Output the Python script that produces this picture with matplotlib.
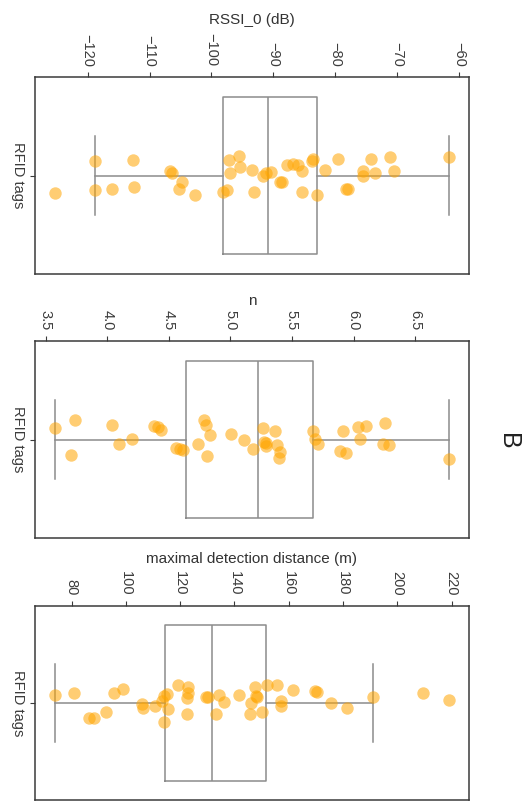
import numpy as np
import matplotlib
matplotlib.use("Agg")
import matplotlib.pyplot as plt

plt.rcParams['font.family'] = ['Liberation Sans', 'DejaVu Sans']

# RSSI_0 (dB) per tag, with jitter offsets
rssi = [-125.3, -118.8, -118.8, -116.1, -112.6, -112.5, -106.7, -106.3, -104.8, -105.2,
        -102.7, -98.2, -97.5, -97.1, -97.0, -95.5, -95.4, -93.5, -93.2, -91.6,
        -91.2, -90.4, -88.9, -88.6, -87.8, -86.8, -86.0, -85.3, -85.3, -83.8,
        -83.6, -82.9, -81.7, -79.5, -78.2, -78.0, -75.6, -75.5, -74.3, -73.6,
        -71.2, -70.5, -61.6]
rssi_jit = [-0.088, 0.076, -0.076, -0.068, 0.08, -0.059, 0.022, 0.012, -0.034, -0.068,
            -0.098, -0.085, -0.076, 0.08, 0.012, 0.10, 0.042, 0.028, -0.085, 0.0,
            0.012, 0.02, -0.034, -0.034, 0.054, 0.06, 0.054, 0.022, -0.085, 0.076,
            0.085, -0.098, 0.03, 0.085, -0.068, -0.07, 0.025, 0.0, 0.085, 0.012,
            0.094, 0.025, 0.094]
rssi_box = dict(whislo=-118.8, q1=-98.2, med=-90.8, q3=-83.0, whishi=-61.6)

# path loss exponent n
n_vals = [3.575, 3.738, 3.705, 4.041, 4.095, 4.198, 4.382, 4.414, 4.433, 4.555,
          4.590, 4.612, 4.739, 4.788, 4.801, 4.834, 4.807, 5.001, 5.112, 5.180,
          5.261, 5.274, 5.288, 5.29, 5.364, 5.375, 5.402, 5.396, 5.667, 5.686,
          5.713, 5.911, 5.889, 5.943, 6.037, 6.051, 6.1, 6.254, 6.236, 6.289, 6.776]
n_jit = [0.056, 0.098, -0.08, 0.076, -0.025, 0.005, 0.068, 0.064, 0.047, -0.042,
         -0.047, -0.054, -0.025, 0.10, 0.073, 0.025, -0.085, 0.03, -0.005, -0.046,
         0.059, -0.014, -0.034, -0.02, 0.042, -0.03, -0.064, -0.093, 0.042, 0.003,
         -0.025, 0.042, -0.056, -0.068, 0.063, 0.005, 0.068, 0.085, -0.022, -0.03, -0.098]
n_box = dict(whislo=3.575, q1=4.636, med=5.221, q3=5.672, whishi=6.773)

# maximal detection distance (m)
dist = [73.85, 80.8, 86.5, 88.2, 92.6, 95.7, 99.0, 105.8, 106.4, 110.7,
        113.2, 114.0, 115.6, 114.0, 115.2, 119.1, 123.0, 122.7, 122.4, 122.6,
        129.5, 130.3, 133.2, 134.3, 136.1, 141.7, 145.9, 145.7, 147.5, 147.9,
        148.2, 150.0, 151.8, 155.5, 157.0, 157.0, 161.4, 169.6, 170.5, 175.5,
        181.3, 191.1, 209.5, 219.1]
dist_jit = [0.041, 0.049, -0.076, -0.076, -0.047, 0.051, 0.071, -0.005, -0.025, -0.014,
            0.012, 0.037, -0.03, -0.098, 0.046, 0.093, 0.08, 0.054, 0.024, -0.056,
            0.032, 0.029, -0.056, 0.042, 0.003, 0.042, 0.0, -0.059, 0.08, 0.037,
            0.029, -0.047, 0.093, 0.093, 0.012, -0.014, 0.068, 0.063, 0.058, 0.0,
            -0.027, 0.032, 0.049, 0.017]
dist_box = dict(whislo=73.85, q1=114.4, med=131.8, q3=151.5, whishi=191.1)

# (values, jitter, box stats, ticks, xlim, label, label y in px)
panels = [
    (rssi, rssi_jit, rssi_box, [-120, -110, -100, -90, -80, -70, -60],
     (-128.5, -58.4), "RSSI_0 (dB)", 20),
    (n_vals, n_jit, n_box, [3.5, 4.0, 4.5, 5.0, 5.5, 6.0, 6.5],
     (3.413, 6.938), "n", 301),
    (dist, dist_jit, dist_box, [80, 100, 120, 140, 160, 180, 200, 220],
     (66.5, 226.4), "maximal detection distance (m)", 559),
]
tick_fmt = [lambda v: f"{v:.0f}", lambda v: f"{v:.1f}", lambda v: f"{v:.0f}"]

W, H = 526, 801
fig = plt.figure(figsize=(W / 100, H / 100), dpi=100)

axes_px = [(77, 274), (341, 538), (606, 800)]  # top, bottom in pixels
box_col = "#8c8c8c"
spine_col = "#3a3a3a"

for i, (vals, jit, st, ticks, xlim, label, ly) in enumerate(panels):
    top, bot = axes_px[i]
    ax = fig.add_axes([35 / W, 1 - bot / H, 434 / W, (bot - top) / H])

    stats = [dict(st, label="", fliers=[])]
    ax.bxp(stats, positions=[0], widths=0.8, vert=False, showfliers=False,
           boxprops=dict(color=box_col, lw=1.1),
           whiskerprops=dict(color=box_col, lw=1.1),
           capprops=dict(color=box_col, lw=1.1),
           medianprops=dict(color=box_col, lw=1.1))

    ax.scatter(vals, jit, s=80, color="#FFA500", alpha=0.55, lw=0, zorder=3)

    ax.set_xlim(*xlim)
    ax.set_ylim(-0.5, 0.5)
    ax.xaxis.tick_top()
    ax.set_xticks(ticks)
    ax.set_xticklabels([tick_fmt[i](t) if t >= 0 else "\u2212" + tick_fmt[i](-t) for t in ticks],
                       rotation=-90, fontsize=10.5, color="#3c3c3c")
    ax.set_yticks([0])
    ax.set_yticklabels(["RFID tags"], rotation=-90, va="center", fontsize=10.5,
                       color="#3c3c3c")
    ax.tick_params(axis="both", length=3.5, width=0.8, color=spine_col, pad=4)
    for sp in ax.spines.values():
        sp.set_color(spine_col)
        sp.set_linewidth(1.1)

    fig.text(252 / W, 1 - ly / H, label, ha="center", va="center",
             fontsize=11, color="#333333")

fig.text(508 / W, 1 - 441 / H, "B", rotation=-90, ha="center", va="center",
         fontsize=18, color="#222222")

fig.savefig("out.png", dpi=100)
